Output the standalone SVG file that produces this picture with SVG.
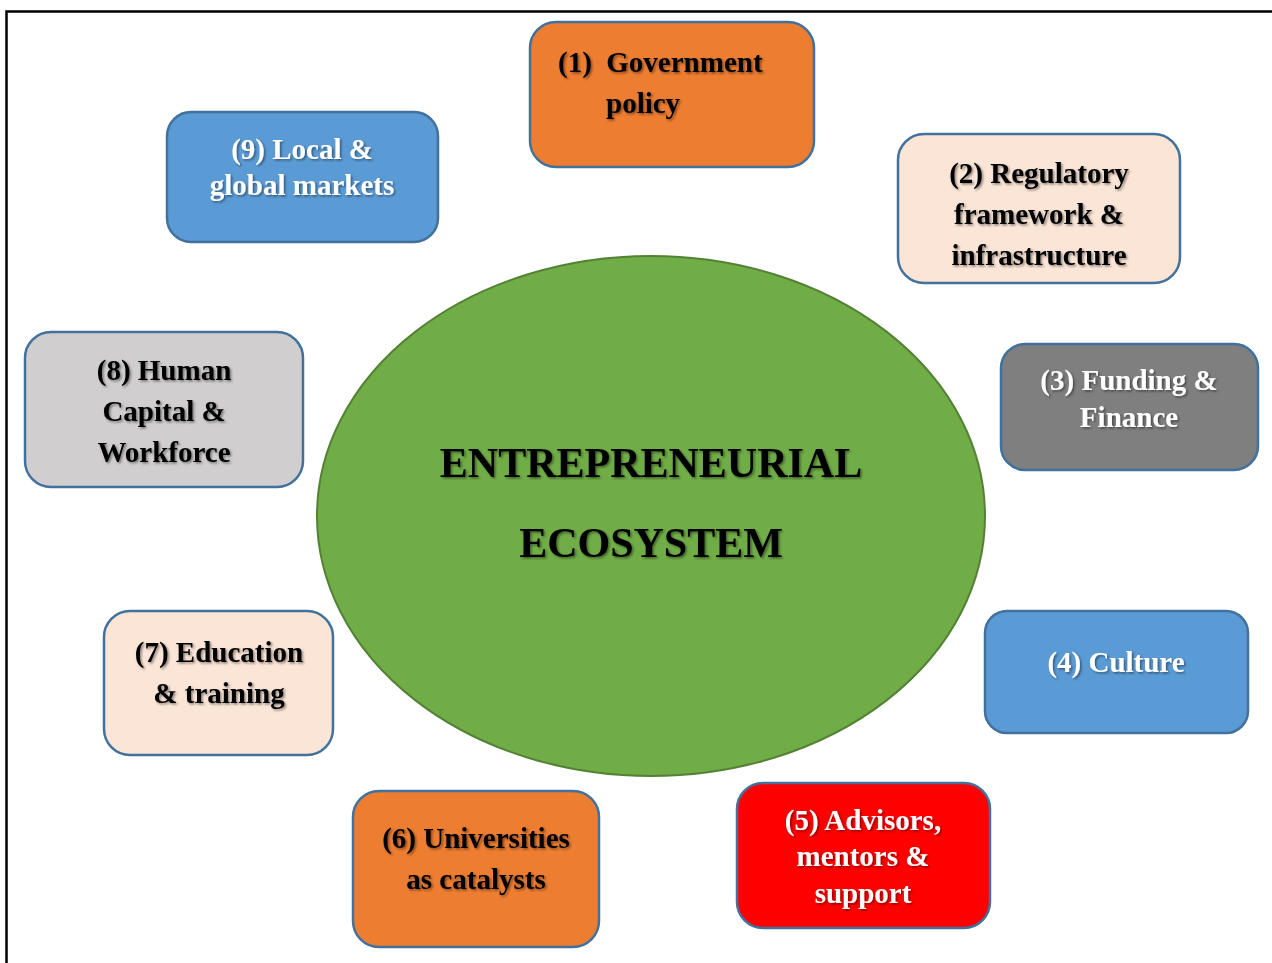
<svg xmlns="http://www.w3.org/2000/svg" width="1272" height="963" viewBox="0 0 1272 963">
<defs>
<filter id="sh" x="-10%" y="-20%" width="120%" height="140%">
<feDropShadow dx="1.5" dy="1.5" stdDeviation="1" flood-color="#000" flood-opacity="0.45"/>
</filter>
<style>
.box{stroke:#41719C;stroke-width:2.5}
text{font-family:"Liberation Serif","Times New Roman",serif;font-weight:bold;font-size:29px;text-anchor:middle;filter:url(#sh)}
.w{fill:#fff}
.k{fill:#000}
</style>
</defs>
<rect width="1272" height="963" fill="#fff"/>
<path d="M6.5,963 V11.5 H1272" fill="none" stroke="#000" stroke-width="2.5"/>
<g id="center">
<ellipse cx="651" cy="516" rx="334" ry="260" fill="#70AD47" stroke="#548235" stroke-width="2"/>
<text class="k" x="651" y="477" style="font-size:42px">ENTREPRENEURIAL</text>
<text class="k" x="651" y="557" style="font-size:42px">ECOSYSTEM</text>
</g>
<g id="connectors"></g>
<g id="n1">
<rect class="box" x="530" y="22" width="284" height="145" rx="26" fill="#ED7D31"/>
<text class="k" x="558" y="72" style="text-anchor:start" xml:space="preserve">(1)  Government</text>
<text class="k" x="606" y="113" style="text-anchor:start">policy</text>
</g>
<g id="n2">
<rect class="box" x="898" y="134" width="282" height="149" rx="26" fill="#FBE5D6"/>
<text class="k" x="1039" y="183">(2) Regulatory</text>
<text class="k" x="1039" y="224">framework &amp;</text>
<text class="k" x="1039" y="265">infrastructure</text>
</g>
<g id="n3">
<rect class="box" x="1001" y="344" width="257" height="126" rx="24" fill="#7F7F7F"/>
<text class="w" x="1129" y="390">(3) Funding &amp;</text>
<text class="w" x="1129" y="427">Finance</text>
</g>
<g id="n4">
<rect class="box" x="985" y="611" width="263" height="122" rx="22" fill="#5B9BD5"/>
<text class="w" x="1116" y="672">(4) Culture</text>
</g>
<g id="n5">
<rect class="box" x="737" y="783" width="253" height="145" rx="26" fill="#FF0000"/>
<text class="w" x="863" y="830">(5) Advisors,</text>
<text class="w" x="863" y="866">mentors &amp;</text>
<text class="w" x="863" y="903">support</text>
</g>
<g id="n6">
<rect class="box" x="353" y="791" width="246" height="156" rx="26" fill="#ED7D31"/>
<text class="k" x="476" y="848">(6) Universities</text>
<text class="k" x="476" y="889">as catalysts</text>
</g>
<g id="n7">
<rect class="box" x="104" y="611" width="229" height="144" rx="26" fill="#FBE5D6"/>
<text class="k" x="219" y="662">(7) Education</text>
<text class="k" x="219" y="703">&amp; training</text>
</g>
<g id="n8">
<rect class="box" x="25" y="332" width="278" height="155" rx="26" fill="#D0CECE"/>
<text class="k" x="164" y="380">(8) Human</text>
<text class="k" x="164" y="421">Capital &amp;</text>
<text class="k" x="164" y="462">Workforce</text>
</g>
<g id="n9">
<rect class="box" x="167" y="112" width="271" height="130" rx="24" fill="#5B9BD5"/>
<text class="w" x="302" y="159">(9) Local &amp;</text>
<text class="w" x="302" y="195">global markets</text>
</g>
</svg>
